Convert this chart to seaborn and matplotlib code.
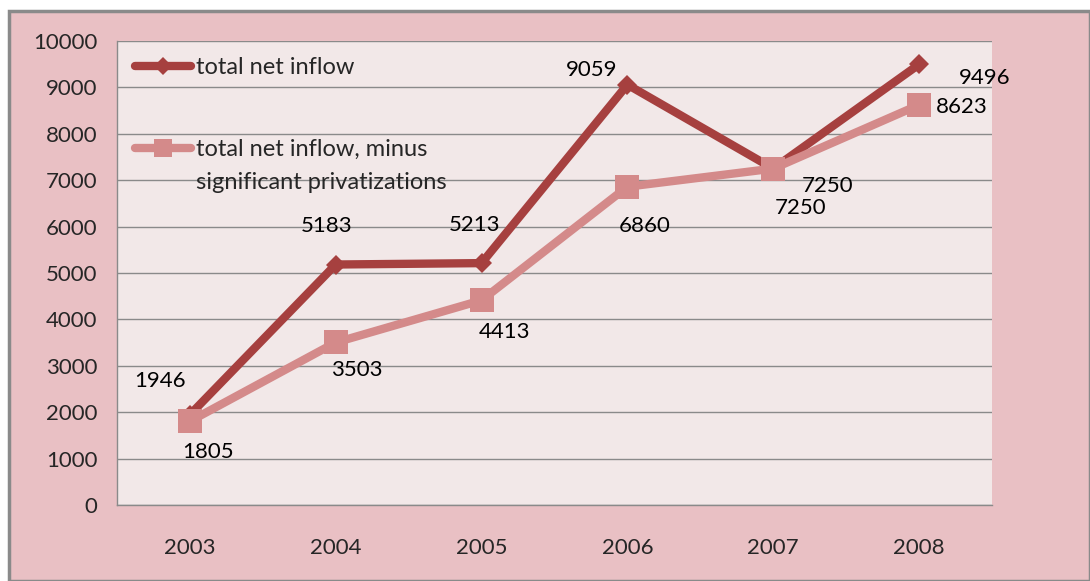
import numpy as np
import pandas as pd
import matplotlib
matplotlib.use("Agg")
import matplotlib.pyplot as plt
from matplotlib.patches import Rectangle
from matplotlib.lines import Line2D
import seaborn as sns

years = ["2003", "2004", "2005", "2006", "2007", "2008"]
total_inflow = [1946, 5183, 5213, 9059, 7250, 9496]
minus_privat = [1805, 3503, 4413, 6860, 7250, 8623]
series_names = ["total net inflow", "total net inflow, minus"]
legend_extra = "significant privatizations"

# label offsets (pixels) for each data label
off_total = [(-30, 34), (-9, 39), (-7, 38), (-36, 15), (54, -17), (66, -14)]
off_minus = [(18, -31), (21, -28), (23, -32), (17, -39), (27, -39), (43, -2)]

DARK = "#A6403F"
LIGHT = "#D48A8A"
GRID = "#8A8A8A"

sns.set_theme(style="white")
plt.rcParams['font.family'] = ['Lato', 'DejaVu Sans']

df = pd.DataFrame({
    "pos": list(range(len(years))) * 2,
    "value": total_inflow + minus_privat,
    "series": [series_names[0]] * len(years) + [series_names[1]] * len(years),
})

fig = plt.figure(figsize=(10.9, 5.81), dpi=100, facecolor="white")
# outer chart area
fig.patches.append(Rectangle((9 / 1090, 0), 1 - 9 / 1090, 1 - 11 / 581,
                             transform=fig.transFigure, facecolor="#E9C0C4",
                             edgecolor="#8A8A8A", linewidth=2.5, zorder=-5))
ax = fig.add_axes([117 / 1090, 1 - 505 / 581, (992 - 117) / 1090, (505 - 41) / 581])
ax.set_zorder(2)
ax.set_facecolor("#F2E8E8")

sns.lineplot(data=df[df.series == series_names[1]], x="pos", y="value", ax=ax,
             color=LIGHT, linewidth=6, marker="s", markersize=17,
             markeredgewidth=0, legend=False, zorder=3)
sns.lineplot(data=df[df.series == series_names[0]], x="pos", y="value", ax=ax,
             color=DARK, linewidth=6, marker="D", markersize=10,
             markeredgewidth=0, legend=False, zorder=2)

for i, v in enumerate(total_inflow):
    ax.annotate(str(v), (i, v), xytext=off_total[i], textcoords="offset pixels",
                ha="center", va="center", fontsize=16, color="black")
for i, v in enumerate(minus_privat):
    ax.annotate(str(v), (i, v), xytext=off_minus[i], textcoords="offset pixels",
                ha="center", va="center", fontsize=16, color="black")

ax.set_xlim(-0.5, len(years) - 0.5)
ax.set_ylim(0, 10000)
ax.set_yticks(np.arange(0, 10001, 1000))
ax.set_xticks(range(len(years)))
ax.set_xticklabels(years)
ax.set_xticks(np.arange(-0.5, len(years)), minor=True)
ax.tick_params(axis="x", which="major", length=0, pad=24, labelsize=16)
ax.tick_params(axis="x", which="minor", length=8, color=GRID, width=1, direction="out")
ax.tick_params(axis="y", length=8, color=GRID, width=1, direction="out", pad=6, labelsize=16)
ax.yaxis.grid(True, color=GRID, linewidth=1)
ax.set_axisbelow(True)
ax.set_xlabel("")
ax.set_ylabel("")
for s in ["top", "right"]:
    ax.spines[s].set_visible(False)
for s in ["left", "bottom"]:
    ax.spines[s].set_color(GRID)
    ax.spines[s].set_linewidth(1)

handles = [
    Line2D([], [], color=DARK, linewidth=6, marker="D", markersize=9, markeredgewidth=0),
    Line2D([], [], color=LIGHT, linewidth=6, marker="s", markersize=13, markeredgewidth=0),
]
leg = ax.legend(handles, series_names, loc="upper left", frameon=False, fontsize=17,
                bbox_to_anchor=(0.02, 0.966), handlelength=2.4, handletextpad=0.2,
                labelspacing=2.6, borderaxespad=0, borderpad=0)
# second line of the second legend entry (drawn after the legend)
ax.annotate(legend_extra, xy=(0, 0), xycoords=leg.get_texts()[1], xytext=(0, -33),
            textcoords="offset pixels", ha="left", va="bottom", fontsize=17, zorder=10)

fig.savefig("out.png", dpi=100, facecolor="white")
